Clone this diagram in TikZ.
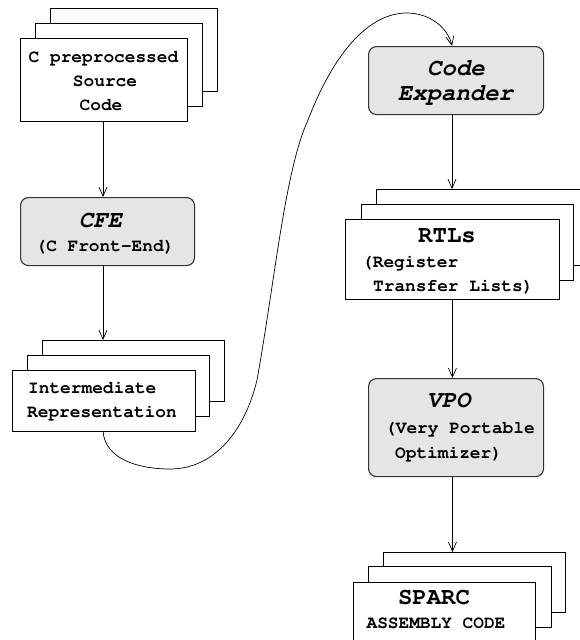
\documentclass[tikz,border=0pt]{standalone}
\usepackage[T1]{fontenc}
\usepackage{courier}
\usetikzlibrary{arrows.meta}
\tikzset{
  pagebox/.style={draw=black, line width=0.9pt, fill=white, inner sep=0pt, anchor=north west},
  toolbox/.style={draw=black!80, line width=1.1pt, fill=gray!20, rounded corners=8pt, inner sep=0pt, anchor=north west},
  flow/.style={draw=black, line width=0.7pt, -{Straight Barb[length=9pt,width=8pt]}},
  txt/.style={anchor=base, inner sep=0pt, font=\ttfamily\bfseries\fontsize{17.8}{24}\selectfont},
  bigtxt/.style={anchor=base, inner sep=0pt, font=\ttfamily\bfseries\fontsize{24}{28}\selectfont},
  bigit/.style={bigtxt, font=\ttfamily\bfseries\slshape\fontsize{24}{28}\selectfont}
}
\begin{document}
\begin{tikzpicture}[x=1pt,y=-1pt]
\useasboundingbox (0,0) rectangle (579,640);

% source files (stack of three pages)
\node[pagebox, minimum width=167pt, minimum height=83pt] (src3) at (50,8) {};
\node[pagebox, minimum width=167pt, minimum height=83pt] (src2) at (35,23) {};
\node[pagebox, minimum width=167pt, minimum height=83pt] (src) at (20,38) {};
\node[txt] (src-a) at (103.5,62) {C preprocessed};
\node[txt] (src-b) at (105,86) {Source};
\node[txt] (src-c) at (101,110) {Code};

% front end
\node[toolbox, minimum width=174pt, minimum height=68pt] (cfe) at (20,197) {};
\node[bigit] (cfe-a) at (100.5,227) {CFE};
\node[txt] (cfe-b) at (105,251) {(C Front-End)};

% intermediate representation
\node[pagebox, minimum width=182pt, minimum height=61pt] (ir3) at (42,340) {};
\node[pagebox, minimum width=182pt, minimum height=61pt] (ir2) at (27,355) {};
\node[pagebox, minimum width=183pt, minimum height=61pt] (ir) at (12,370) {};
\node[txt, anchor=base west] (ir-a) at (28,393) {Intermediate};
\node[txt, anchor=base west] (ir-b) at (27,417) {Representation};

% code expander
\node[toolbox, minimum width=175pt, minimum height=68pt] (ce) at (368,46) {};
\node[bigit] (ce-a) at (456,75) {Code};
\node[bigit] (ce-b) at (455.5,100) {Expander};

% RTL files
\node[pagebox, minimum width=214pt, minimum height=76pt] (rtl3) at (376,189) {};
\node[pagebox, minimum width=212pt, minimum height=76pt] (rtl2) at (361,204) {};
\node[pagebox, minimum width=214pt, minimum height=80pt] (rtl) at (345,219) {};
\node[bigtxt] (rtl-a) at (447,242) {RTLs};
\node[txt, anchor=base west] (rtl-b) at (362,267) {(Register};
\node[txt, anchor=base west] (rtl-c) at (373,291) {Transfer Lists)};

% optimizer
\node[toolbox, minimum width=175pt, minimum height=98pt] (vpo) at (368,378) {};
\node[bigit, anchor=base west] (vpo-a) at (427,407) {VPO};
\node[txt, anchor=base west] (vpo-b) at (385,433) {(Very Portable};
\node[txt, anchor=base west] (vpo-c) at (395,458) {Optimizer)};

% assembly output
\node[pagebox, minimum width=182pt, minimum height=60pt] (sp3) at (383,552) {};
\node[pagebox, minimum width=183pt, minimum height=61pt] (sp2) at (368,566) {};
\node[pagebox, minimum width=182pt, minimum height=60pt] (sp) at (353,582) {};
\node[bigtxt] (sp-a) at (434,604) {SPARC};
\node[txt] (sp-b) at (436,628) {ASSEMBLY CODE};

% flow
\coordinate (c1) at (103,121);
\coordinate (c2) at (103,265);
\coordinate (c3) at (452,114);
\draw[flow] (c1) -- (c1 |- cfe.north);
\draw[flow] (c2) -- (c2 |- ir3.north);
\draw[flow] (c3) -- (c3 |- rtl3.north);
\draw[flow] (rtl.south) -- (rtl.south |- vpo.north);
\draw[flow] (rtl.south |- vpo.south) -- (rtl.south |- sp3.north);
\coordinate (c4) at (103,431);
\coordinate (c5) at (452,46);
\draw[flow] (c4) .. controls (105,460) and (140,469) .. (170,469)
  .. controls (215,469) and (245,430) .. (257,380)
  .. controls (275,280) and (285,170) .. (308,120)
  .. controls (335,50) and (370,13) .. (407,13)
  .. controls (430,13) and (448,28) .. (c5);
\end{tikzpicture}
\end{document}
